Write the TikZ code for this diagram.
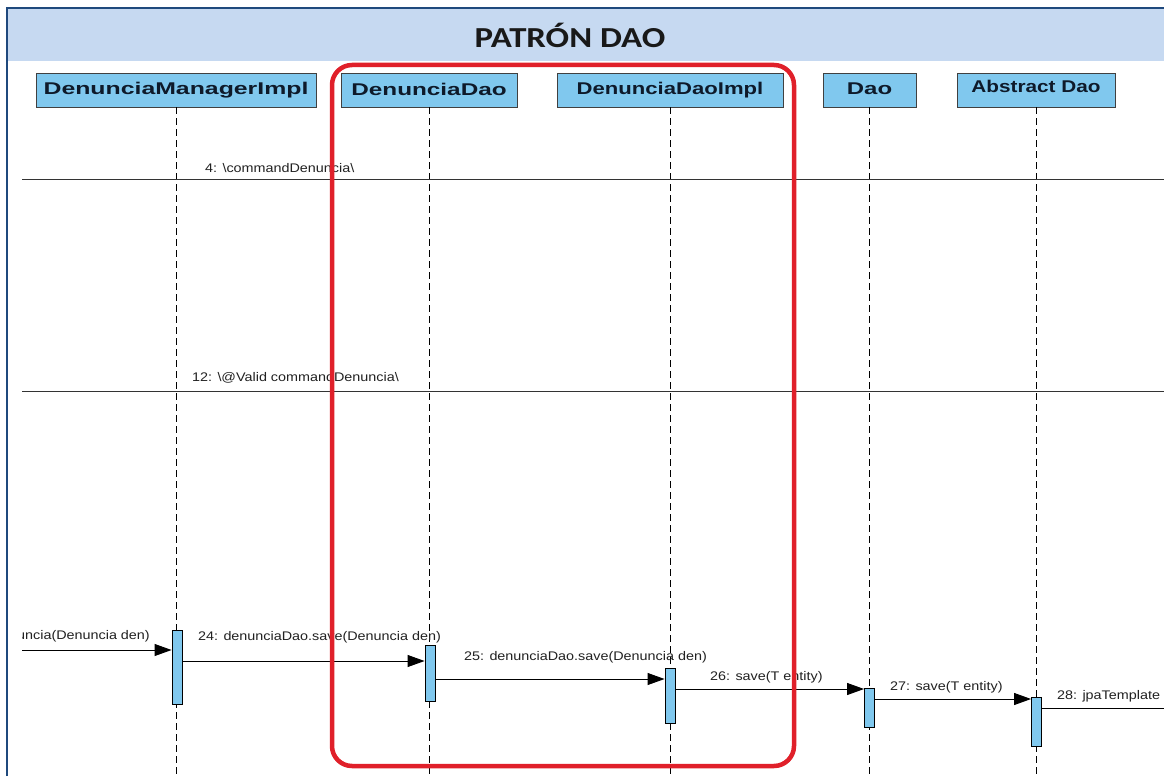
\documentclass[tikz,border=0pt]{standalone}
\usepackage{fontspec}
\usetikzlibrary{arrows.meta}
\newfontfamily\arialfont{Liberation Sans}
\newfontfamily\titlefont{Carlito}
\definecolor{framebl}{HTML}{1F497D}
\definecolor{bandbl}{HTML}{C6D9F1}
\definecolor{headbl}{HTML}{80C8EE}
\definecolor{headtx}{HTML}{0E1A2A}
\definecolor{redbox}{HTML}{E0202A}
\definecolor{msgtx}{HTML}{222222}
\newcommand\hstretch[2]{\scalebox{#1}[1]{#2}}
\tikzset{
  head/.style={draw=black!75, line width=0.9pt, fill=headbl, minimum height=34pt,
    inner sep=0pt, text=headtx, font=\arialfont\bfseries\fontsize{17}{19}\selectfont},
  lifeline/.style={line width=0.8pt, dash pattern=on 7pt off 4pt},
  actbar/.style={draw=black, line width=0.9pt, fill=headbl, minimum width=10pt, inner sep=0pt},
  msg/.style={line width=0.9pt, -{Triangle[length=17pt,width=12pt]}},
  msgline/.style={line width=0.9pt},
  divline/.style={line width=1pt, draw=black!80},
  msglabel/.style={anchor=west, inner sep=0pt, text=msgtx, font=\arialfont\fontsize{12.5}{14}\selectfont},
  redframe/.style={draw=redbox, line width=4.5pt, rounded corners=20pt}
}
\begin{document}
\begin{tikzpicture}[x=1pt,y=-1pt]
\useasboundingbox (0,0) rectangle (1164,776);
\fill[white] (0,0) rectangle (1164,776);
% page frame and title band
\fill[bandbl] (8,9) rectangle (1164,61);
\draw[framebl, line width=2pt] (7,776) -- (7,8) -- (1164,8);
\node[inner sep=0pt, text=black!90, font=\titlefont\bfseries\fontsize{29}{34}\selectfont]
  (title) at (570,35) {\hstretch{1.2}{PATRÓN DAO}};

% lifeline heads
\node[head, minimum width=280pt] (dmi) at (176,90) {\raisebox{2pt}{\hstretch{1.46}{DenunciaManagerImpl}}};
\node[head, minimum width=176pt] (dd) at (429,90) {\raisebox{2pt}{\hstretch{1.43}{DenunciaDao}}};
\node[head, minimum width=226pt] (ddi) at (670,90) {\raisebox{2pt}{\hstretch{1.3}{DenunciaDaoImpl}}};
\node[head, minimum width=93pt] (dao) at (869.5,90) {\raisebox{2pt}{\hstretch{1.41}{Dao}}};
\node[head, minimum width=158pt] (adao) at (1036,90) {\raisebox{7pt}{\hstretch{1.22}{Abstract Dao}}};

% lifeline ends
\coordinate (dmiE) at (176,776);
\coordinate (ddE) at (429,776);
\coordinate (ddiE) at (670,776);
\coordinate (daoE) at (869.5,776);
\coordinate (adaoE) at (1036,776);
\draw[lifeline] (dmi.south) -- (dmiE);
\draw[lifeline] (dd.south) -- (ddE);
\draw[lifeline] (ddi.south) -- (ddiE);
\draw[lifeline] (dao.south) -- (daoE);
\draw[lifeline] (adao.south) -- (adaoE);

% messages crossing the whole diagram
\coordinate (m4a) at (22,179);
\coordinate (m4b) at (1164,179);
\coordinate (m12a) at (22,391);
\coordinate (m12b) at (1164,391);
\draw[divline] (m4a) -- (m4b);
\draw[divline] (m12a) -- (m12b);
\node[msglabel] (l4) at (205,168) {\hstretch{1.15}{4: \textbackslash commandDenuncia\textbackslash}};
\node[msglabel] (l12) at (192,378) {\hstretch{1.15}{12: \textbackslash @Valid commandDenuncia\textbackslash}};

% activation bars
\node[actbar, minimum height=74pt] (a1) at (177,667) {};
\node[actbar, minimum height=56pt] (a2) at (430,673) {};
\node[actbar, minimum height=55pt] (a3) at (670,695.5) {};
\node[actbar, minimum height=39pt] (a4) at (869.5,707.5) {};
\node[actbar, minimum height=49pt] (a5) at (1036.5,721.5) {};

% call chain
\coordinate (m23a) at (22,650);
\begin{scope}
  \clip (22,600) rectangle (200,660);
  \node[msglabel, anchor=east] (l23) at (150,636) {\hstretch{1.15}{uncia(Denuncia den)}};
\end{scope}
\draw[msg] (m23a) -- (a1.west |- m23a);
\node[msglabel] (l24) at (198,637) {\hstretch{1.15}{24: denunciaDao.save(Denuncia den)}};
\draw[msg] (a1.east |- 0,661) -- (a2.west |- 0,661);
\node[msglabel] (l25) at (464,657) {\hstretch{1.15}{25: denunciaDao.save(Denuncia den)}};
\draw[msg] (a2.east |- 0,679) -- (a3.west |- 0,679);
\node[msglabel] (l26) at (710,677) {\hstretch{1.15}{26: save(T entity)}};
\draw[msg] (a3.east |- 0,689) -- (a4.west |- 0,689);
\node[msglabel] (l27) at (890,687) {\hstretch{1.15}{27: save(T entity)}};
\draw[msg] (a4.east |- 0,699) -- (a5.west |- 0,699);
\node[msglabel] (l28) at (1057,696) {\hstretch{1.15}{28: jpaTemplate}};
\coordinate (m28b) at (1164,708);
\draw[msgline] (a5.east |- m28b) -- (m28b);

% highlight around the DAO pair
\draw[redframe] (332,65) rectangle (794,766);
\end{tikzpicture}
\end{document}
